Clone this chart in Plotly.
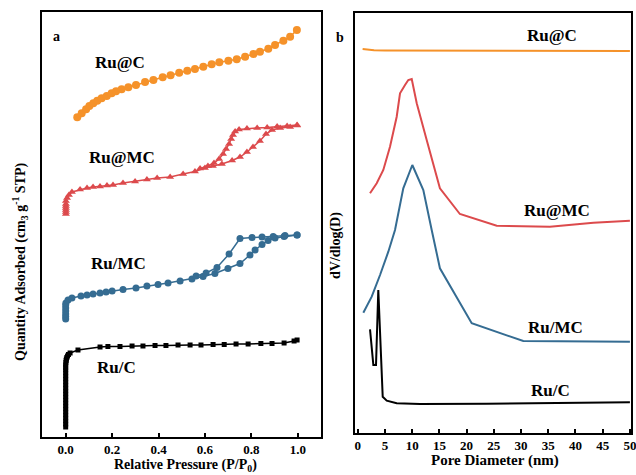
import plotly.graph_objects as go

# ---------------- Panel a: N2 isotherms (arbitrary stacked units) ----------------
ruc_at_p = [0.050, 0.069, 0.088, 0.102, 0.119, 0.136, 0.155, 0.177, 0.198, 0.217, 0.241, 0.270,
            0.303, 0.342, 0.378, 0.418, 0.452, 0.489, 0.524, 0.557, 0.593, 0.629, 0.662, 0.701,
            0.737, 0.773, 0.809, 0.837, 0.873, 0.902, 0.938, 0.967, 0.996]
ruc_at_q = [320.7, 324.7, 328.7, 332, 334.7, 337.3, 339.7, 342, 344.7, 346.7, 348.7, 350.7,
            353, 356, 358, 360.7, 362.7, 365.3, 367.3, 369, 371.3, 373.7, 375.7, 377.3,
            378.7, 381.3, 384, 386.3, 389.3, 393, 397.3, 401.3, 408]

rumc_at_ads_p = [0.001, 0.001, 0.001, 0.001, 0.001, 0.001, 0.001, 0.006, 0.014, 0.027, 0.062, 0.092,
                 0.118, 0.148, 0.178, 0.204, 0.247, 0.299, 0.350, 0.394, 0.450, 0.506, 0.557, 0.600,
                 0.634, 0.673, 0.717, 0.751, 0.781, 0.807, 0.837, 0.863, 0.889, 0.924, 0.967, 0.997]
rumc_at_ads_q = [224, 226, 228, 230, 232, 234, 237, 240, 243, 246, 248.5, 250,
                 251, 251.5, 252.5, 253, 255, 256.5, 258.5, 260, 261, 264, 266.5, 270,
                 272, 274, 277.5, 281, 286, 291, 297, 304, 308, 310, 311, 312.5]
rumc_at_des_p = [0.997, 0.954, 0.911, 0.868, 0.825, 0.781, 0.747, 0.730, 0.721, 0.713, 0.704,
                 0.691, 0.678, 0.661, 0.639, 0.613, 0.579]
rumc_at_des_q = [313, 312, 311.5, 310.5, 310, 309.5, 308.5, 306.5, 303, 299, 294,
                 289, 284, 279, 275, 272, 269.5]

rumc_ads_p = [0.0, 0.0, 0.0, 0.0, 0.0, 0.0, 0.001, 0.010, 0.027, 0.066, 0.092, 0.118, 0.148, 0.174,
              0.200, 0.247, 0.303, 0.350, 0.398, 0.441, 0.493, 0.544, 0.592, 0.643, 0.699, 0.751,
              0.794, 0.816, 0.846, 0.872, 0.902, 0.941, 0.997]
rumc_ads_q = [119, 121.5, 124, 127, 130, 133, 135, 138, 140, 142, 143, 144, 145, 146,
              147, 148.5, 150, 152, 153.5, 155, 157, 159, 161.5, 164.5, 169.5, 174.5,
              183, 188, 193.5, 197.5, 200, 201.5, 203]
rumc_des_p = [0.997, 0.945, 0.894, 0.846, 0.803, 0.751, 0.704, 0.652, 0.605, 0.562]
rumc_des_q = [203, 202.5, 201.5, 201, 200.5, 199.5, 184, 170.5, 165, 162]

ruc_p = [0.0, 0.0, 0.0, 0.0, 0.0, 0.0, 0.0, 0.0, 0.0, 0.0, 0.0, 0.0, 0.0, 0.0, 0.0, 0.0, 0.0,
         0.0, 0.0, 0.0, 0.0, 0.0, 0.001, 0.002, 0.003, 0.005, 0.008, 0.012,
         0.019, 0.053, 0.148, 0.182, 0.234, 0.286, 0.333, 0.385, 0.432, 0.484, 0.536, 0.583,
         0.635, 0.683, 0.734, 0.786, 0.841, 0.889, 0.941, 0.984, 0.997]
ruc_q = [11, 14, 17, 20, 23, 26, 29, 32, 35, 38, 41, 44, 47, 50, 53, 56, 59,
         62, 65, 68, 70.5, 73, 75.5, 77.5, 79, 80.5, 82, 83.5,
         85, 88, 91, 91.5, 91.5, 92, 92, 92.5, 92.5, 93, 93, 93,
         93.5, 93.5, 94, 94, 94.5, 94.5, 95, 97, 98]

# ---------------- Panel b: pore size distributions ----------------
d_ruc_at = [0.9, 2.0, 3.0, 5.0, 10.0, 20.0, 30.0, 40.0, 50.0]
v_ruc_at = [384, 383, 382.7, 382.5, 382.5, 382.3, 382.3, 382, 382]

d_rumc_at = [2.26, 3.49, 4.70, 5.93, 7.16, 7.77, 8.69, 9.29, 9.92, 10.84, 12.67, 15.1, 18.77,
             25.53, 35.3, 43.3, 50.0]
v_rumc_at = [239.7, 249.7, 263, 286.3, 316.3, 339.7, 348, 353, 354, 329.7, 293, 244.7, 219,
             207.3, 206.3, 210.3, 212.3]

d_rumc = [1.03, 2.57, 4.10, 5.62, 6.85, 8.37, 10.03, 12.05, 13.59, 15.1, 20.94, 30.41, 50.0]
v_rumc = [120.3, 136.3, 158, 181.3, 203, 244.7, 268, 243, 203, 164.7, 109.7, 92, 91.3]

d_ruc = [2.26, 2.87, 3.36, 3.78, 4.59, 5.33, 7.16, 11.44, 23.7, 50.0]
v_ruc = [103.7, 68, 68, 143, 36.3, 32.3, 29.7, 29, 29.3, 30.7]

ORANGE = "#F5922A"
RED = "#DC4A4C"
BLUE = "#356C92"
BLACK = "#000000"
FONT = "Liberation Serif"

fig = go.Figure()

def iso(x, y, color, symbol, size):
    fig.add_trace(go.Scatter(x=x, y=y, mode="lines+markers", xaxis="x", yaxis="y",
                             line=dict(color=color, width=1.5),
                             marker=dict(color=color, symbol=symbol, size=size),
                             showlegend=False))

iso(ruc_at_p, ruc_at_q, ORANGE, "circle", 8)
iso(rumc_at_ads_p, rumc_at_ads_q, RED, "triangle-up", 7)
iso(rumc_at_des_p, rumc_at_des_q, RED, "triangle-up", 7)
iso(rumc_ads_p, rumc_ads_q, BLUE, "circle", 7)
iso(rumc_des_p, rumc_des_q, BLUE, "circle", 7)
iso(ruc_p, ruc_q, BLACK, "square", 5)

def psd(x, y, color):
    fig.add_trace(go.Scatter(x=x, y=y, mode="lines", xaxis="x2", yaxis="y2",
                             line=dict(color=color, width=2), showlegend=False))

psd(d_ruc_at, v_ruc_at, ORANGE)
psd(d_rumc_at, v_rumc_at, RED)
psd(d_rumc, v_rumc, BLUE)
psd(d_ruc, v_ruc, BLACK)

xcommon = dict(showgrid=False, zeroline=False, showline=True, linecolor="black", linewidth=1.5,
               mirror=True, ticks="inside", ticklen=4, tickwidth=1.5, tickcolor="black",
               tickfont=dict(family=FONT, size=13, color="black"), ticklabeloverflow="allow",
               automargin=False)
ycommon = dict(showgrid=False, zeroline=False, showline=True, linecolor="black", linewidth=1.5,
               mirror=True, ticks="", showticklabels=False, automargin=False)

fig.update_layout(
    width=636, height=475,
    margin=dict(l=0, r=0, t=0, b=0, autoexpand=False),
    paper_bgcolor="white", plot_bgcolor="white",
    font=dict(family=FONT, color="black"),
    xaxis=dict(domain=[42/636, 321/636], range=[-0.102, 1.1], tickvals=[0, 0.2, 0.4, 0.6, 0.8, 1.0],
               ticktext=["<b>0.0</b>", "<b>0.2</b>", "<b>0.4</b>", "<b>0.6</b>", "<b>0.8</b>", "<b>1.0</b>"],
               anchor="y", **xcommon),
    yaxis=dict(domain=[(475-437)/475, (475-12)/475], range=[1, 426], anchor="x", **ycommon),
    xaxis2=dict(domain=[355/636, 631/636], range=[-0.5, 50.2], tickvals=list(range(0, 51, 5)),
                ticktext=["<b>%d</b>" % v for v in range(0, 51, 5)], anchor="y2", **xcommon),
    yaxis2=dict(domain=[(475-433)/475, (475-13)/475], range=[0, 420], anchor="x2", **ycommon),
)

ann = [
    ("<b>a</b>", 57, 37, 14, 0),
    ("<b>b</b>", 340, 38, 14, 0),
    ("<b>Ru@C</b>", 120, 62, 17, 0),
    ("<b>Ru@MC</b>", 122, 158, 17, 0),
    ("<b>Ru/MC</b>", 119, 263, 17, 0),
    ("<b>Ru/C</b>", 117, 367, 17, 0),
    ("<b>Ru@C</b>", 552, 35, 17, 0),
    ("<b>Ru@MC</b>", 557, 210, 17, 0),
    ("<b>Ru/MC</b>", 555, 327, 17, 0),
    ("<b>Ru/C</b>", 550, 390, 17, 0),
    ("<b>Relative Pressure (P/P<sub>0</sub>)</b>", 185, 465, 14, 0),
    ("<b>Pore Diameter (nm)</b>", 495, 460, 15, 0),
    ("<b>Quantity Adsorbed (cm<sub>3</sub> g<sup>-1</sup> STP)</b>", 20, 262, 14, -90),
    ("<b>dV/dlog(D)</b>", 336, 246, 14, -90),
]
for text, x, y, size, ang in ann:
    fig.add_annotation(text=text, x=x/636, y=1 - y/475, xref="paper", yref="paper",
                       xanchor="center", yanchor="middle", showarrow=False, textangle=ang,
                       font=dict(family=FONT, size=size, color="black"))

fig.write_html("out.html")
